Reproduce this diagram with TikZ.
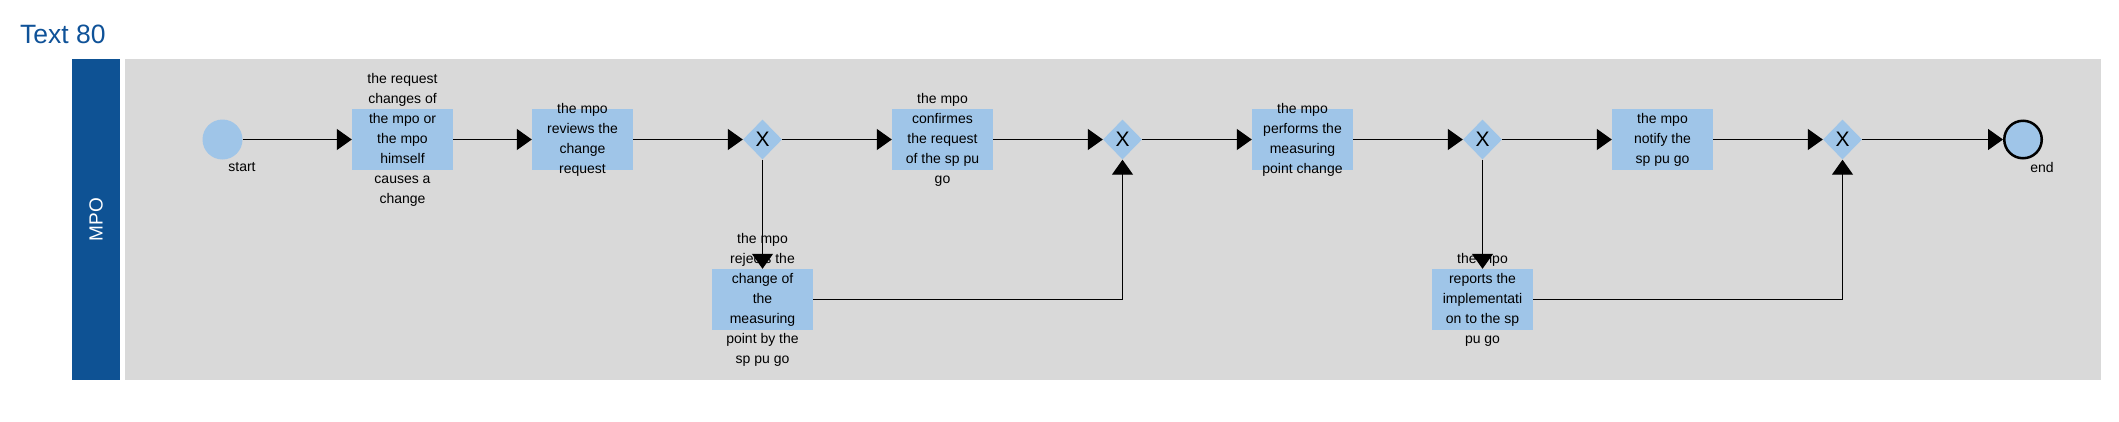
\documentclass[tikz,border=0pt]{standalone}
\usepackage{fontspec}
\setmainfont{Liberation Sans}
\usetikzlibrary{shapes.geometric,arrows.meta}
\definecolor{titleblue}{HTML}{0F5298}
\definecolor{laneblue}{HTML}{0E5294}
\definecolor{boxblue}{HTML}{9FC5E8}
\definecolor{lanegray}{HTML}{D9D9D9}
\tikzset{
  task/.style={fill=boxblue, minimum width=101pt, minimum height=61pt, inner sep=0pt},
  ttext/.style={font=\fontsize{14}{20}\selectfont, align=center, inner sep=0pt},
  gw/.style={diamond, fill=boxblue, minimum width=39pt, minimum height=40pt, inner sep=0pt, font=\fontsize{21}{21}\selectfont},
  flow/.style={draw, line width=1.3pt, -{Triangle[length=15pt,width=21pt]}},
  evlabel/.style={font=\fontsize{14}{16}\selectfont, inner sep=0pt},
}
\begin{document}
\begin{tikzpicture}[x=1pt,y=-1pt]
\useasboundingbox (0,0) rectangle (2119,421);
% title
\node[anchor=base west, inner sep=0pt, text=titleblue, font=\fontsize{26.5}{26.5}\selectfont] (title) at (20,43) {Text 80};
% lane
\fill[laneblue] (72,59) rectangle (120,380);
\fill[lanegray] (125,59) rectangle (2101,380);
\node[rotate=90, text=white, font=\fontsize{19}{19}\selectfont, inner sep=0pt] (lane) at (96,219.5) {MPO};
% events
\node[circle, fill=boxblue, minimum size=40pt, inner sep=0pt] (s) at (222.5,139.5) {};
\node[evlabel] (sl) at (242,167) {start};
\node[circle, fill=boxblue, draw=black, line width=2.5pt, minimum size=37.5pt, inner sep=0pt] (e) at (2023,139.5) {};
\node[evlabel] (el) at (2042,167) {end};
% tasks
\node[task] (b1) at (402.5,139.5) {};
\node[ttext] (b1t) at (b1) {the request\\changes of\\the mpo or\\the mpo\\himself\\causes a\\change};
\node[task] (b2) at (582.5,139.5) {};
\node[ttext] (b2t) at (b2) {the mpo\\reviews the\\change\\request};
\node[gw] (g1) at (762.5,139.5) {X};
\node[task] (b3) at (942.5,139.5) {};
\node[ttext] (b3t) at (b3) {the mpo\\confirmes\\the request\\of the sp pu\\go};
\node[gw] (g2) at (1122.5,139.5) {X};
\node[task] (b4) at (1302.5,139.5) {};
\node[ttext] (b4t) at (b4) {the mpo\\performs the\\measuring\\point change};
\node[gw] (g3) at (1482.5,139.5) {X};
\node[task] (b6) at (1662.5,139.5) {};
\node[ttext] (b6t) at (b6) {the mpo\\notify the\\sp pu go};
\node[gw] (g4) at (1842.5,139.5) {X};
\node[task] (b5) at (762.5,299.5) {};
\node[ttext] (b5t) at (b5) {the mpo\\rejects the\\change of\\the\\measuring\\point by the\\sp pu go};
\node[task] (b7) at (1482.5,299.5) {};
\node[ttext] (b7t) at (b7) {the mpo\\reports the\\implementati\\on to the sp\\pu go};
% flows
\draw[flow] (s) -- (b1);
\draw[flow] (b1) -- (b2);
\draw[flow] (b2) -- (g1);
\draw[flow] (g1) -- (b3);
\draw[flow] (b3) -- (g2);
\draw[flow] (g2) -- (b4);
\draw[flow] (b4) -- (g3);
\draw[flow] (g3) -- (b6);
\draw[flow] (b6) -- (g4);
\draw[flow] (g4) -- (e);
\draw[flow] (g1) -- (b5);
\draw[flow] (b5) -| (g2);
\draw[flow] (g3) -- (b7);
\draw[flow] (b7) -| (g4);
\end{tikzpicture}
\end{document}
